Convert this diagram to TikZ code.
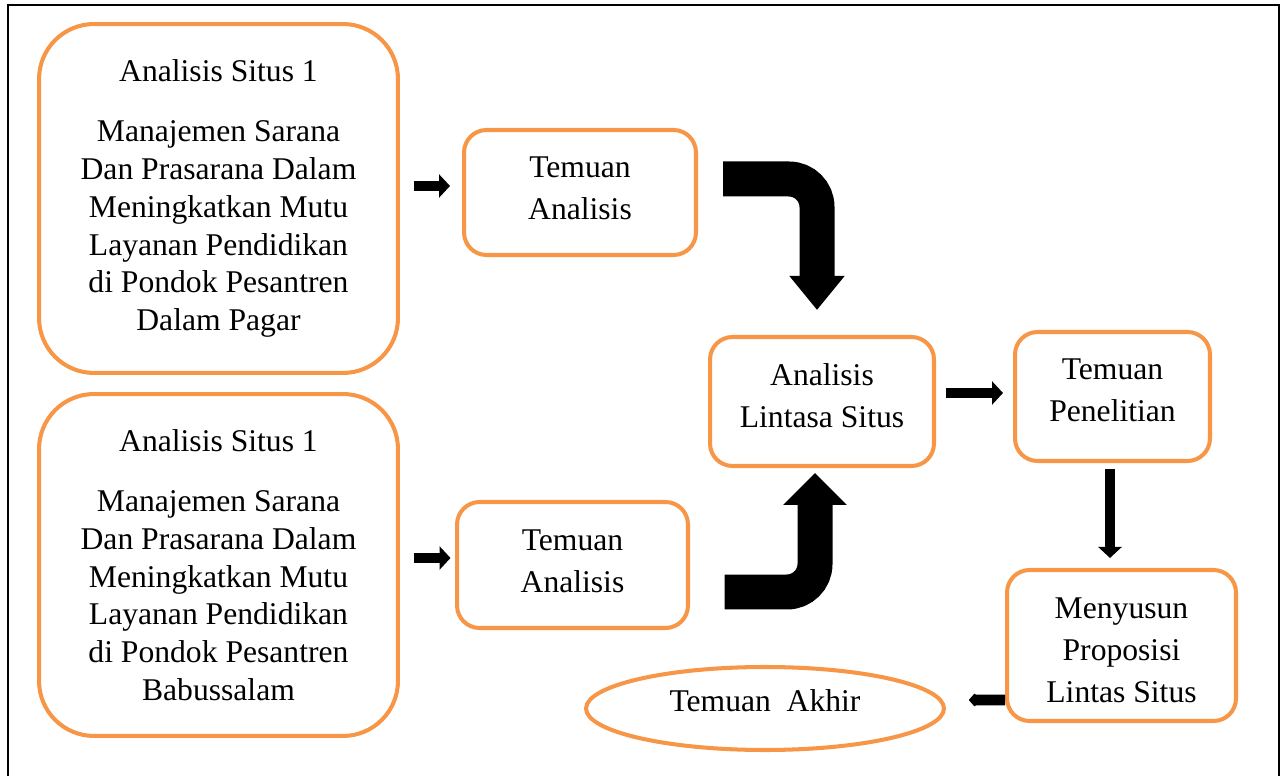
\documentclass[tikz,border=0pt]{standalone}
\usepackage{fontspec}
\setmainfont{Liberation Serif}
\usetikzlibrary{arrows.meta,shapes.geometric,positioning}
\definecolor{orangeline}{HTML}{F79646}

\begin{document}
\begin{tikzpicture}[x=0.02cm, y=-0.02cm,
    bigbox/.style={draw=orangeline, line width=2.3pt, rounded corners=1.1cm, align=center,
        minimum width=7.18cm, inner sep=0pt, font=\fontsize{18}{21.5}\selectfont},
    smallbox/.style={draw=orangeline, line width=2.3pt, rounded corners=0.45cm, inner sep=0pt},
    boxtext/.style={align=center, inner sep=0pt, font=\fontsize{18}{24}\selectfont},
    thinarrow/.style={line width=0.2cm, -{Triangle[length=0.22cm,width=0.46cm]}},
    bentarrow/.style={line width=0.7cm, rounded corners=0.56cm}]
    \useasboundingbox (0,0) rectangle (1285,776);
    % bingkai luar
    \draw[line width=0.8pt] (8,790) -- (8,5) -- (1279,5) -- (1279,790);

    % dua situs
    \node[bigbox, minimum height=6.98cm] (situsA) at (218.5,198.5)
        {Analisis Situs 1\\[12.8pt] Manajemen Sarana\\ Dan Prasarana Dalam\\ Meningkatkan Mutu\\
         Layanan Pendidikan\\ di Pondok Pesantren\\ Dalam Pagar};
    \node[bigbox, minimum height=6.84cm] (situsB) at (218.5,565)
        {Analisis Situs 1\\[12.8pt] Manajemen Sarana\\ Dan Prasarana Dalam\\ Meningkatkan Mutu\\
         Layanan Pendidikan\\ di Pondok Pesantren\\ Babussalam};

    % temuan tiap situs
    \node[smallbox, minimum width=4.64cm, minimum height=2.5cm,
        label={[boxtext, yshift=0.08cm]center:{Temuan\\ Analisis}}] (temuanA) at (580,192.5) {};
    \node[smallbox, minimum width=4.62cm, minimum height=2.52cm,
        label={[boxtext, yshift=0.08cm]center:{Temuan\\ Analisis}}] (temuanB) at (572.5,565) {};

    % lintas situs
    \node[smallbox, minimum width=4.48cm, minimum height=2.58cm,
        label={[boxtext, yshift=0.12cm]center:{Analisis\\ Lintasa Situs}}] (lintas) at (822,401.5) {};
    \node[smallbox, minimum width=3.9cm, minimum height=2.58cm,
        label={[boxtext, yshift=0.12cm]center:{Temuan\\ Penelitian}}] (penelitian) at (1112.5,396.5) {};
    \node[smallbox, minimum width=4.58cm, minimum height=3.02cm,
        label={[boxtext, yshift=-0.1cm]center:{Menyusun\\ Proposisi\\ Lintas Situs}}] (proposisi) at (1121.5,645.5) {};
    \node[draw=orangeline, line width=2.3pt, ellipse, minimum width=7.16cm, minimum height=1.66cm, inner sep=0pt,
        label={[boxtext, yshift=0.16cm]center:{Temuan\ \ Akhir}}] (akhir) at (765,708.5) {};

    % panah kecil
    \draw[thinarrow] ([shift={(14,-6.5)}]situsA.east |- temuanA.west) -- ([shift={(-12,-6.5)}]temuanA.west);
    \draw[thinarrow] ([shift={(14,-7)}]situsB.east |- temuanB.west) -- ([shift={(-4.5,-7)}]temuanB.west);
    \draw[thinarrow] ([shift={(10,-8.5)}]lintas.east) -- ([shift={(-10,-8.5)}]penelitian.west |- lintas.east);
    \draw[thinarrow] ([shift={(-2.5,6)}]penelitian.south) -- ([shift={(-2.5,-10)}]proposisi.north -| penelitian.south);
    \draw[line width=0.22cm, -{Triangle[length=0.14cm,width=0.3cm,round]}]
        ([shift={(0,54.5)}]proposisi.west) -- ([shift={(23,-8.5)}]akhir.east);

    % panah lengkung besar
    \draw[bentarrow, -{Triangle[length=0.68cm,width=1.06cm]}]
        ([shift={(25,-13.5)}]temuanA.east) -| ([shift={(-5,-25)}]lintas.north);
    \draw[bentarrow, -{Triangle[length=0.64cm,width=1.24cm]}]
        ([shift={(34.5,27)}]temuanB.east) -| ([shift={(-7,5)}]lintas.south);
\end{tikzpicture}
\end{document}
